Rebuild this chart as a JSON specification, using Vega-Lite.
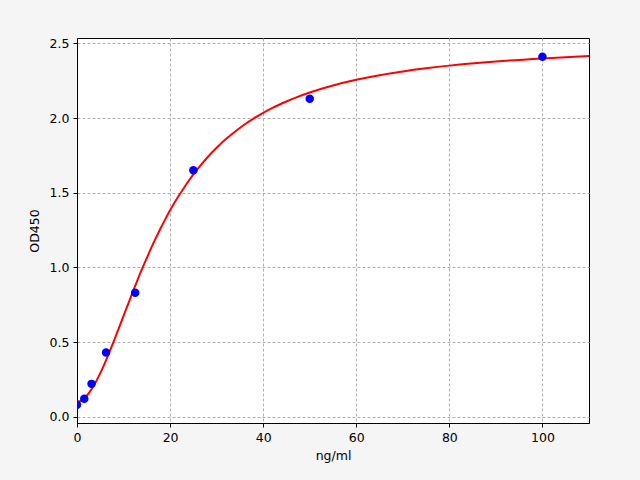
{
  "$schema": "https://vega.github.io/schema/vega-lite/v6.json",
  "autosize": {"type": "none"},
  "width": 512,
  "height": 385,
  "padding": {"left": 77, "top": 38, "right": 51, "bottom": 57},
  "background": "#f5f5f5",
  "datasets": {
    "points": [
      {"conc": 0, "od": 0.08},
      {"conc": 1.5625, "od": 0.12},
      {"conc": 3.125, "od": 0.22},
      {"conc": 6.25, "od": 0.43},
      {"conc": 12.5, "od": 0.83},
      {"conc": 25, "od": 1.65},
      {"conc": 50, "od": 2.13},
      {"conc": 100, "od": 2.41}
    ],
    "curve": [
      {"conc": 0, "od": 0.1},
      {"conc": 1, "od": 0.11},
      {"conc": 2, "od": 0.137},
      {"conc": 3, "od": 0.178},
      {"conc": 4, "od": 0.23},
      {"conc": 5, "od": 0.292},
      {"conc": 6, "od": 0.361},
      {"conc": 7, "od": 0.436},
      {"conc": 8, "od": 0.513},
      {"conc": 9, "od": 0.594},
      {"conc": 10, "od": 0.676},
      {"conc": 11, "od": 0.756},
      {"conc": 12, "od": 0.837},
      {"conc": 13, "od": 0.915},
      {"conc": 14, "od": 0.991},
      {"conc": 15, "od": 1.063},
      {"conc": 16, "od": 1.134},
      {"conc": 17, "od": 1.2},
      {"conc": 18, "od": 1.264},
      {"conc": 19, "od": 1.324},
      {"conc": 20, "od": 1.382},
      {"conc": 21, "od": 1.436},
      {"conc": 22, "od": 1.486},
      {"conc": 23.5, "od": 1.557},
      {"conc": 25, "od": 1.623},
      {"conc": 26.5, "od": 1.681},
      {"conc": 28, "od": 1.736},
      {"conc": 30, "od": 1.801},
      {"conc": 32, "od": 1.859},
      {"conc": 34, "od": 1.91},
      {"conc": 36, "od": 1.957},
      {"conc": 38, "od": 1.998},
      {"conc": 40, "od": 2.035},
      {"conc": 42, "od": 2.068},
      {"conc": 45, "od": 2.111},
      {"conc": 47, "od": 2.137},
      {"conc": 50, "od": 2.171},
      {"conc": 55, "od": 2.218},
      {"conc": 60, "od": 2.256},
      {"conc": 65, "od": 2.287},
      {"conc": 70, "od": 2.312},
      {"conc": 75, "od": 2.333},
      {"conc": 80, "od": 2.351},
      {"conc": 90, "od": 2.379},
      {"conc": 100, "od": 2.399},
      {"conc": 110, "od": 2.415}
    ]
  },
  "encoding": {
    "x": {
      "field": "conc",
      "type": "quantitative",
      "title": "ng/ml",
      "scale": {"domain": [0, 110], "nice": false, "zero": false},
      "axis": {"values": [0, 20, 40, 60, 80, 100], "format": "d"}
    },
    "y": {
      "field": "od",
      "type": "quantitative",
      "title": "OD450",
      "scale": {"domain": [-0.042, 2.536], "nice": false, "zero": false},
      "axis": {"values": [0, 0.5, 1, 1.5, 2, 2.5], "format": ".1f"}
    }
  },
  "layer": [
    {
      "data": {"name": "curve"},
      "mark": {"type": "line", "color": "#ff0000", "strokeWidth": 2, "interpolate": "monotone", "clip": true}
    },
    {
      "data": {"name": "points"},
      "mark": {"type": "circle", "color": "#0000ff", "opacity": 1, "size": 72, "clip": true}
    }
  ],
  "config": {
    "view": {"fill": "white", "stroke": "black", "strokeWidth": 1},
    "axis": {
      "labelFont": "DejaVu Sans",
      "titleFont": "DejaVu Sans",
      "labelFontSize": 12.5,
      "titleFontSize": 12.5,
      "titleFontWeight": "normal",
      "labelColor": "black",
      "titleColor": "black",
      "domainColor": "black",
      "tickColor": "black",
      "tickSize": 4,
      "labelPadding": 4,
      "labelFlush": false,
      "labelOverlap": false,
      "grid": true,
      "gridColor": "#b0b0b0",
      "gridDash": [3, 2],
      "gridWidth": 1
    },
    "axisX": {"titlePadding": 6},
    "axisY": {"titlePadding": 8}
  }
}
